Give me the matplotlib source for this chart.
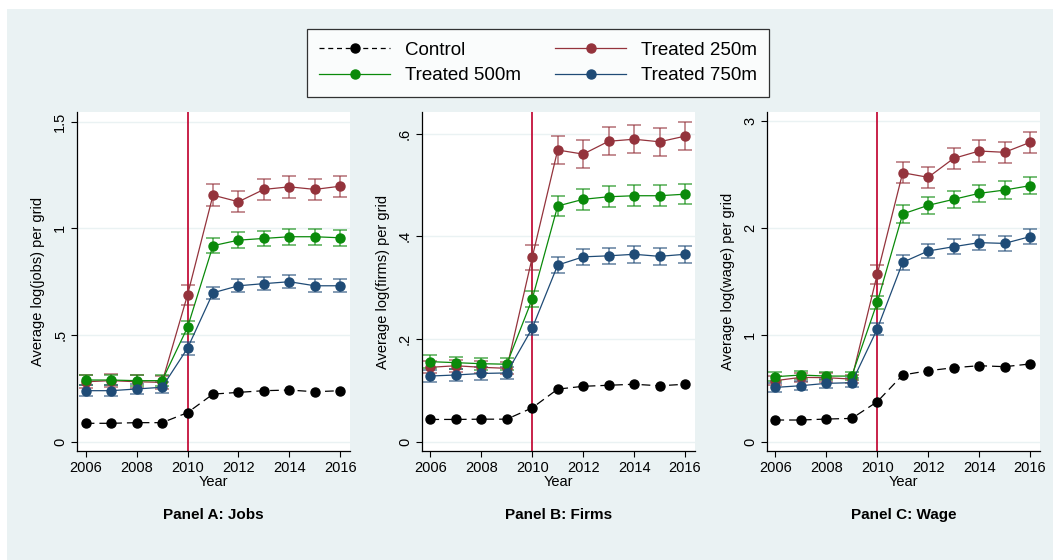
import numpy as np
import matplotlib.pyplot as plt
from matplotlib.patches import Rectangle
from matplotlib.lines import Line2D

plt.rcParams['font.family'] = ['Liberation Sans', 'DejaVu Sans']

years = np.arange(2006, 2017)

# Panel A: jobs
jobs_control = [0.086, 0.086, 0.089, 0.089, 0.136, 0.223, 0.231, 0.239, 0.242, 0.234, 0.239]
jobs_250 = [0.281, 0.286, 0.281, 0.278, 0.688, 1.156, 1.125, 1.183, 1.195, 1.183, 1.198]
jobs_500 = [0.289, 0.289, 0.286, 0.286, 0.536, 0.919, 0.945, 0.953, 0.961, 0.961, 0.956]
jobs_750 = [0.239, 0.239, 0.247, 0.255, 0.438, 0.698, 0.731, 0.741, 0.750, 0.731, 0.731]
jobs_err_250 = [0.03, 0.03, 0.03, 0.03, 0.045, 0.05, 0.05, 0.05, 0.05, 0.05, 0.05]
jobs_err_500 = [0.025, 0.025, 0.025, 0.025, 0.03, 0.035, 0.037, 0.037, 0.037, 0.037, 0.037]
jobs_err_750 = [0.025, 0.025, 0.025, 0.025, 0.03, 0.028, 0.03, 0.03, 0.03, 0.03, 0.03]

# Panel B: firms
firms_control = [0.0435, 0.0435, 0.044, 0.044, 0.066, 0.1025, 0.108, 0.110, 0.112, 0.109, 0.112]
firms_250 = [0.145, 0.148, 0.145, 0.143, 0.359, 0.568, 0.560, 0.585, 0.589, 0.584, 0.595]
firms_500 = [0.156, 0.154, 0.152, 0.151, 0.278, 0.459, 0.472, 0.477, 0.479, 0.479, 0.482]
firms_750 = [0.128, 0.130, 0.133, 0.134, 0.221, 0.344, 0.360, 0.362, 0.365, 0.361, 0.365]
firms_err_250 = [0.012, 0.012, 0.012, 0.012, 0.024, 0.027, 0.027, 0.027, 0.027, 0.027, 0.027]
firms_err_500 = [0.012, 0.012, 0.012, 0.012, 0.015, 0.02, 0.02, 0.02, 0.02, 0.02, 0.02]
firms_err_750 = [0.012, 0.012, 0.012, 0.012, 0.013, 0.016, 0.016, 0.016, 0.016, 0.016, 0.016]

# Panel C: wage
wage_control = [0.203, 0.203, 0.212, 0.218, 0.374, 0.624, 0.664, 0.692, 0.711, 0.702, 0.727]
wage_250 = [0.571, 0.602, 0.599, 0.586, 1.565, 2.516, 2.473, 2.650, 2.719, 2.707, 2.800]
wage_500 = [0.608, 0.624, 0.614, 0.614, 1.303, 2.130, 2.211, 2.267, 2.323, 2.354, 2.395]
wage_750 = [0.508, 0.524, 0.546, 0.552, 1.054, 1.678, 1.784, 1.824, 1.862, 1.855, 1.918]
wage_err_250 = [0.04, 0.04, 0.04, 0.04, 0.09, 0.1, 0.1, 0.1, 0.1, 0.1, 0.1]
wage_err_500 = [0.04, 0.04, 0.04, 0.04, 0.06, 0.08, 0.08, 0.08, 0.08, 0.08, 0.08]
wage_err_750 = [0.04, 0.04, 0.04, 0.04, 0.06, 0.07, 0.07, 0.07, 0.07, 0.07, 0.07]

panels = [
    ("Panel A: Jobs", "Average log(jobs) per grid",
     jobs_control, jobs_250, jobs_500, jobs_750,
     jobs_err_250, jobs_err_500, jobs_err_750,
     [0, 0.5, 1, 1.5], ["0", ".5", "1", "1.5"], (-0.044, 1.546)),
    ("Panel B: Firms", "Average log(firms) per grid",
     firms_control, firms_250, firms_500, firms_750,
     firms_err_250, firms_err_500, firms_err_750,
     [0, 0.2, 0.4, 0.6], ["0", ".2", ".4", ".6"], (-0.018, 0.642)),
    ("Panel C: Wage", "Average log(wage) per grid",
     wage_control, wage_250, wage_500, wage_750,
     wage_err_250, wage_err_500, wage_err_750,
     [0, 1, 2, 3], ["0", "1", "2", "3"], (-0.087, 3.084)),
]

bg = '#eaf2f3'
c_ctrl = 'black'
c_250 = '#94333c'
c_500 = '#0a8a0a'
c_750 = '#1f4b76'
c_vline = '#c4103a'

fig = plt.figure(figsize=(10.53, 5.60), dpi=100)
fig.patch.set_facecolor('white')
fig.patches.append(Rectangle((7 / 1053, 0), 1, 1 - 9 / 560, transform=fig.transFigure,
                             facecolor=bg, edgecolor='none', zorder=-10))

lefts = [77 / 1053, 421.7 / 1053, 766.7 / 1053]
for left, (title, ylab, ctrl, t250, t500, t750, e250, e500, e750,
           yt, ytl, ylim) in zip(lefts, panels):
    ax = fig.add_axes([left, 0.1946, 0.2595, 0.6054])
    ax.set_facecolor('white')
    for s in ['top', 'right']:
        ax.spines[s].set_visible(False)
    for s in ['left', 'bottom']:
        ax.spines[s].set_linewidth(0.9)
    ax.set_yticks(yt)
    ax.set_yticklabels(ytl, rotation=90, va='center')
    ax.set_xticks(np.arange(2006, 2017, 2))
    ax.tick_params(labelsize=10.5, length=4, width=0.8, pad=3)
    ax.yaxis.grid(True, color=bg, linewidth=1.0)
    ax.set_axisbelow(True)
    ax.set_xlim(2005.66, 2016.39)
    ax.set_ylim(*ylim)
    ax.axvline(2010, color=c_vline, linewidth=1.3, zorder=1)

    for vals, err, col in [(t250, e250, c_250), (t500, e500, c_500), (t750, e750, c_750)]:
        ax.errorbar(years, vals, yerr=err, fmt='none', ecolor=col, alpha=0.7,
                    elinewidth=1.1, capsize=5, capthick=1.1, zorder=2)
        ax.plot(years, vals, '-o', color=col, linewidth=0.9, markersize=6.5, zorder=3)
    ax.plot(years, ctrl, '--o', color=c_ctrl, linewidth=0.9, markersize=6.5,
            dashes=(7, 4), zorder=4)

    ax.set_xlabel("Year", fontsize=10.5, labelpad=0)
    ax.set_ylabel(ylab, fontsize=10.5, labelpad=6)
    ax.text(0.5, -0.19, title, transform=ax.transAxes, ha='center', va='center',
            fontsize=11, fontweight='bold')

handles = [
    Line2D([], [], color=c_ctrl, linestyle='--', dashes=(4, 3), marker='o',
           markersize=6.5, linewidth=0.9),
    Line2D([], [], color=c_500, marker='o', markersize=6.5, linewidth=0.9),
    Line2D([], [], color=c_250, marker='o', markersize=6.5, linewidth=0.9),
    Line2D([], [], color=c_750, marker='o', markersize=6.5, linewidth=0.9),
]
labels = ["Control", "Treated 500m", "Treated 250m", "Treated 750m"]
leg = fig.legend(handles, labels, ncol=2, loc='center', bbox_to_anchor=(0.511, 0.8875),
                 fontsize=13.5, frameon=True, fancybox=False, edgecolor='black',
                 handlelength=3.8, columnspacing=1.8, borderpad=0.65,
                 labelspacing=0.45, handletextpad=0.8, borderaxespad=0)
leg.get_frame().set_linewidth(0.9)

fig.savefig('out.png', dpi=100)
